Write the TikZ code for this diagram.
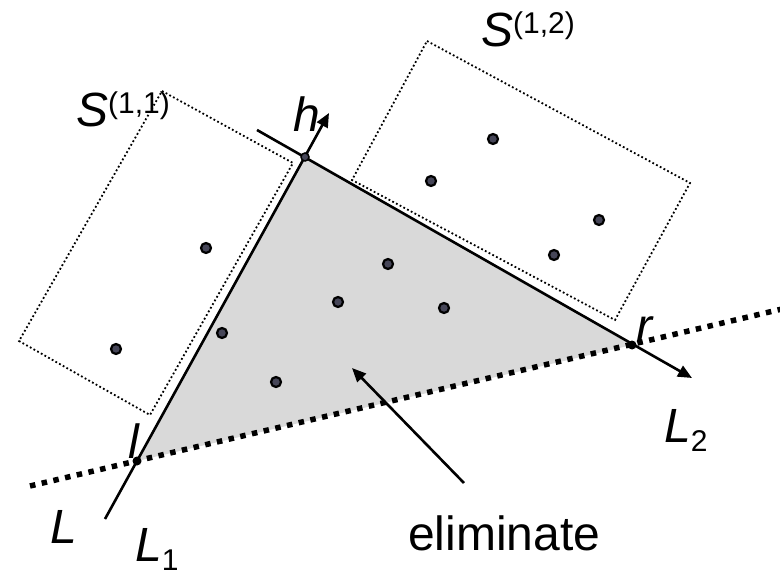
\documentclass[tikz,border=0pt]{standalone}
\usepackage{fontspec}
\setmainfont{Liberation Sans}
\usetikzlibrary{arrows.meta,calc}
\definecolor{ptcol}{RGB}{70,70,88}
\definecolor{elimcol}{RGB}{217,217,217}
\newcommand\supx[1]{\raisebox{13pt}{\fontsize{30}{32}\selectfont\upshape #1}}
\newcommand\subx[1]{\raisebox{-9pt}{\fontsize{30}{32}\selectfont\upshape #1}}

\begin{document}
\begin{tikzpicture}[x=1pt, y=-1pt,
  pnt/.style={circle, draw=black, line width=2.2pt, fill=ptcol, inner sep=0pt, minimum size=10pt},
  vx/.style={circle, fill=black, inner sep=0pt, minimum size=9pt},
  ar/.style={-{Triangle[length=14pt,width=12pt]}, line width=2.6pt},
  box/.style={line width=1.8pt, dash pattern=on 1.8pt off 2.4pt},
  cut/.style={line width=5.5pt, dash pattern=on 5.5pt off 6.5pt},
  lbl/.style={font=\fontsize{48}{52}\selectfont\itshape, inner sep=0pt, anchor=base west},
]
\useasboundingbox (0,0) rectangle (780,575);

% vertices of the eliminated triangle
\coordinate (l) at (137,461);
\coordinate (h) at (305,157);
\coordinate (r) at (632,345);

% ends of the lines
\coordinate (L1s) at (105,519);
\coordinate (L1e) at (329,113);
\coordinate (L2s) at (257,130);
\coordinate (L2e) at (692,378);
\coordinate (Ls)  at (30,486);
\coordinate (Le)  at (782,309);

\fill[elimcol] (l) -- (h) -- (r) -- cycle;

% subproblem boxes
\draw[box] (162,91) -- (293,163) -- (150,415) -- (19,341) -- cycle;
\draw[box] (427,41) -- (690,183) -- (615,320) -- (352,180) -- cycle;

\draw[cut] (Ls) -- (Le);
\draw[ar] (L1s) -- (L1e);
\draw[ar] (L2s) -- (L2e);

% points
\foreach \n/\p in {p1/{(206,248)}, p2/{(116,349)}, p3/{(222,333)}, p4/{(276,382)},
                   p5/{(338,302)}, p6/{(388,264)}, p7/{(444,308)}, p8/{(493,139)},
                   p9/{(431,181)}, p10/{(599,220)}, p11/{(554,255)}}
  \node[pnt] (\n) at \p {};

\node[vx] (vl) at (l) {};
\node[vx, fill=ptcol, draw=black, line width=1.5pt, minimum size=8pt] (vh) at (h) {};
\node[vx] (vr) at (r) {};

% labels
\node[lbl] (s11) at (76,127) {S\supx{(1,1)}};
\node[lbl] (s12) at (481,47) {S\supx{(1,2)}};
\node[lbl] (hl)  at (293,132) {h};
\node[lbl] (ll)  at (128,458) {l};
\node[lbl] (rl)  at (636,342) {r};
\node[lbl] (Ll)  at (50,543) {L};
\node[lbl] (L1l) at (135,561) {L\subx{1}};
\node[lbl] (L2l) at (664,442) {L\subx{2}};

\node[lbl, font=\fontsize{48}{52}\selectfont] (elim) at (408,550) {eliminate};
\coordinate (elimtail) at (464,483);
\coordinate (elimtip) at (352,368);
\draw[ar] (elimtail) -- (elimtip);
\end{tikzpicture}
\end{document}
